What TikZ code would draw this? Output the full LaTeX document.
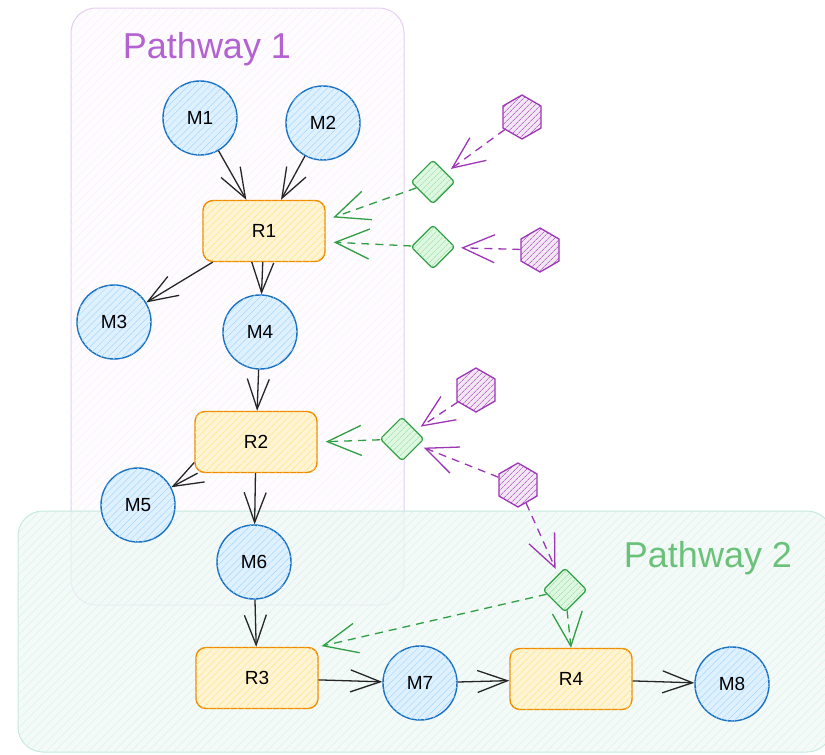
\documentclass[tikz,border=0pt]{standalone}
\usepackage{fontspec}
\setmainfont{Liberation Sans}
\usetikzlibrary{shapes.geometric,arrows.meta,patterns.meta}

\definecolor{metblue}{HTML}{1971C2}
\definecolor{metfill}{HTML}{A5D8FF}
\definecolor{reacorange}{HTML}{F08C00}
\definecolor{reacfill}{HTML}{FFE384}
\definecolor{enzgreen}{HTML}{2F9E44}
\definecolor{enzfill}{HTML}{B2F2BB}
\definecolor{regpurple}{HTML}{9C36B5}
\definecolor{pathpink}{HTML}{E6CDF0}
\definecolor{pathmint}{HTML}{C6E9DD}
\definecolor{labelpurple}{HTML}{B462D2}
\definecolor{labelgreen}{HTML}{6CC17A}

\begin{document}
\begin{tikzpicture}[
  x=1pt, y=-1pt,
  met/.style={circle, draw=metblue, line width=1.4pt, minimum size=74pt, fill=metfill!35,
    postaction={pattern={Lines[angle=45,distance=5pt,line width=0.5pt]}, pattern color=metfill},
    font=\fontsize{19}{21}\selectfont},
  reac/.style={rectangle, rounded corners=10pt, draw=reacorange, line width=1.4pt,
    minimum width=122pt, minimum height=61pt, fill=reacfill!35,
    postaction={pattern={Lines[angle=45,distance=5pt,line width=0.5pt]}, pattern color=reacfill},
    font=\fontsize{19}{21}\selectfont},
  enz/.style={diamond, rounded corners=3pt, draw=enzgreen, line width=1.3pt, minimum size=44pt,
    inner sep=0pt, fill=enzfill!45,
    postaction={pattern={Lines[angle=45,distance=4pt,line width=0.5pt]}, pattern color=enzgreen!45}},
  reg/.style={regular polygon, regular polygon sides=6, shape border rotate=30, draw=regpurple,
    line width=1.3pt, minimum size=44pt, inner sep=0pt, fill=regpurple!12,
    postaction={pattern={Lines[angle=45,distance=4pt,line width=0.6pt]}, pattern color=regpurple}},
  pathbox/.style={rounded corners=25pt, line width=1pt},
  pathlabel/.style={anchor=base, font=\fontsize{36}{40}\selectfont},
  arrow/.style={-{Straight Barb[length=30pt,width=22pt]}, line width=1.3pt, black!85},
  gdash/.style={-{Straight Barb[length=34pt,width=30pt]}, dash pattern=on 8pt off 6pt,
    line width=1.3pt, enzgreen, shorten >=8pt},
  pdash/.style={-{Straight Barb[length=32pt,width=28pt]}, dash pattern=on 8pt off 6pt,
    line width=1.3pt, regpurple, shorten >=6pt}
]
\useasboundingbox (0,0) rectangle (825,755);

% Pathways
\draw[pathbox, draw=pathpink, fill=pathpink!6,
  postaction={pattern={Lines[angle=45,distance=6pt,line width=0.5pt]}, pattern color=pathpink!30}]
  (71,8) rectangle (404,605);
\draw[pathbox, draw=pathmint, fill=pathmint!30, fill opacity=0.7,
  postaction={pattern={Lines[angle=45,distance=6pt,line width=0.5pt]}, pattern color=pathmint!60}]
  (18,511) rectangle (832,752);
\node[pathlabel, text=labelpurple] (p1) at (207,58) {Pathway 1};
\node[pathlabel, text=labelgreen] (p2) at (708,567) {Pathway 2};

% Nodes
\node[met] (m1) at (200,118) {M1};
\node[met] (m2) at (323,123) {M2};
\node[reac] (r1) at (264,231) {R1};
\node[met] (m3) at (114,322) {M3};
\node[met] (m4) at (260,332) {M4};
\node[reac] (r2) at (256,442) {R2};
\node[met] (m5) at (138,505) {M5};
\node[met] (m6) at (254,562) {M6};
\node[reac] (r3) at (257,678) {R3};
\node[met] (m7) at (420,683) {M7};
\node[reac] (r4) at (571,679) {R4};
\node[met] (m8) at (732,684) {M8};

\node[enz] (e1) at (433,182) {};
\node[enz] (e2) at (433,247) {};
\node[enz] (e3) at (402,439) {};
\node[enz] (e4) at (565,590) {};

\node[reg] (h1) at (522,117) {};
\node[reg] (h2) at (540,250) {};
\node[reg] (h3) at (476,390) {};
\node[reg] (h4) at (518,485) {};

% Arrows
\draw[arrow] (m1) -- (r1);
\draw[arrow] (m2) -- (r1);
\draw[arrow] (r1) -- (m3);
\draw[arrow] (r1) -- (m4);
\draw[arrow] (m4) -- (r2);
\draw[arrow] (r2) -- (m5);
\draw[arrow] (r2) -- (m6);
\draw[arrow] (m6) -- (r3);
\draw[arrow] (r3) -- (m7);
\draw[arrow] (m7) -- (r4);
\draw[arrow] (r4) -- (m8);

\draw[gdash] (e1) -- (r1.10);
\draw[gdash] (e2) -- (r1.-10);
\draw[gdash] (e3) -- (r2.east);
\draw[gdash, shorten >=3pt] (e4) -- (r3.north east);
\draw[gdash, shorten >=0pt] (e4) -- (r4.north);

\draw[pdash] (h1) -- (e1);
\draw[pdash] (h2) -- (e2);
\draw[pdash] (h3) -- (e3);
\draw[pdash] (h4) -- (e3);
\draw[pdash] (h4) -- (e4);

\end{tikzpicture}
\end{document}
